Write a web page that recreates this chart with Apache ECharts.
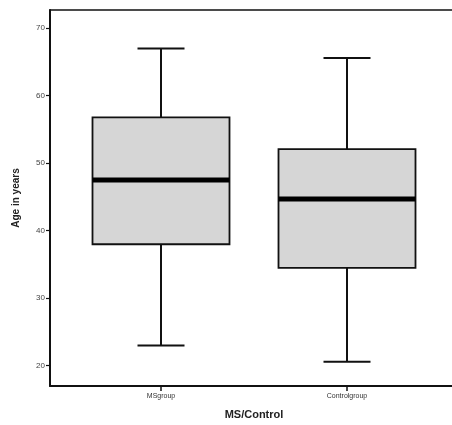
<!DOCTYPE html>
<html><head><meta charset="utf-8">
<script src="https://cdn.jsdelivr.net/npm/echarts@6/dist/echarts.min.js"></script>
<style>html,body{margin:0;padding:0;background:#fff}#c{width:452px;height:425px}</style>
</head><body><div id="c"></div>
<script>
const categories = ['MSgroup', 'Controlgroup'];
// [min, Q1, median, Q3, max]
const lowWhisker = [23.0, 20.6];
const q1 = [38.0, 34.5];
const median = [47.5, 44.7];
const q3 = [56.8, 52.1];
const highWhisker = [67.0, 65.6];
const yTicks = [20, 30, 40, 50, 60, 70];

const boxData = categories.map((c, i) => [i, lowWhisker[i], q1[i], median[i], q3[i], highWhisker[i]]);

const BOX_W = 137, CAP_W = 47;
function renderBox(params, api) {
  const x = api.value(0);
  const pLo = api.coord([x, api.value(1)]);
  const pQ1 = api.coord([x, api.value(2)]);
  const pMed = api.coord([x, api.value(3)]);
  const pQ3 = api.coord([x, api.value(4)]);
  const pHi = api.coord([x, api.value(5)]);
  const cx = pMed[0];
  const line = {stroke: '#111', lineWidth: 2};
  return {
    type: 'group',
    children: [
      {type: 'line', shape: {x1: cx, y1: pHi[1], x2: cx, y2: pQ3[1]}, style: line},
      {type: 'line', shape: {x1: cx, y1: pQ1[1], x2: cx, y2: pLo[1]}, style: line},
      {type: 'line', shape: {x1: cx - CAP_W / 2, y1: pHi[1], x2: cx + CAP_W / 2, y2: pHi[1]}, style: line},
      {type: 'line', shape: {x1: cx - CAP_W / 2, y1: pLo[1], x2: cx + CAP_W / 2, y2: pLo[1]}, style: line},
      {type: 'rect', shape: {x: cx - BOX_W / 2, y: pQ3[1], width: BOX_W, height: pQ1[1] - pQ3[1]},
       style: {fill: '#d6d6d6', stroke: '#111', lineWidth: 1.8}},
      {type: 'line', shape: {x1: cx - BOX_W / 2, y1: pMed[1], x2: cx + BOX_W / 2, y2: pMed[1]},
       style: {stroke: '#000', lineWidth: 5}}
    ]
  };
}

const yMin = 17, yMax = 72.7;
const chart = echarts.init(document.getElementById('c'));
chart.setOption({
  animation: false,
  backgroundColor: '#fff',
  grid: [
    {left: 50, right: 0, top: 10, bottom: 39},
    {left: 68, right: 12, top: 10, bottom: 39}
  ],
  xAxis: [
    {gridIndex: 0, type: 'value', position: 'bottom', axisLine: {show: true, onZero: false, lineStyle: {color: '#111', width: 2}},
     axisTick: {show: false}, axisLabel: {show: false}, splitLine: {show: false}},
    {gridIndex: 0, type: 'value', position: 'top', axisLine: {show: true, onZero: false, lineStyle: {color: '#111', width: 1.5}},
     axisTick: {show: false}, axisLabel: {show: false}, splitLine: {show: false}},
    {gridIndex: 1, type: 'category', data: categories, boundaryGap: true,
     axisLine: {show: false}, axisTick: {show: true, alignWithLabel: true, length: 5, lineStyle: {color: '#111', width: 1.5}},
     axisLabel: {fontSize: 7, color: '#333', fontFamily: 'Liberation Sans', margin: 7},
     name: 'MS/Control', nameLocation: 'middle', nameGap: 23,
     nameTextStyle: {fontSize: 11, fontWeight: 'bold', color: '#222', fontFamily: 'Liberation Sans'}}
  ],
  yAxis: [
    {gridIndex: 0, type: 'value', min: yMin, max: yMax,
     axisLine: {show: true, lineStyle: {color: '#111', width: 2}},
     axisTick: {show: true, length: 4, lineStyle: {color: '#111', width: 1.2},
       customValues: yTicks},
     axisLabel: {fontSize: 8, color: '#444', fontFamily: 'Liberation Sans', margin: 5,
       customValues: yTicks},
     splitLine: {show: false},
     name: 'Age in years', nameLocation: 'middle', nameGap: 29,
     nameTextStyle: {fontSize: 10, fontWeight: 'bold', color: '#222', fontFamily: 'Liberation Sans'}},
    {gridIndex: 1, type: 'value', min: yMin, max: yMax, show: false}
  ],
  series: [
    {type: 'custom', xAxisIndex: 2, yAxisIndex: 1, data: boxData,
     encode: {x: 0, y: [1, 2, 3, 4, 5]},
     renderItem: renderBox}
  ]
});
</script></body></html>
